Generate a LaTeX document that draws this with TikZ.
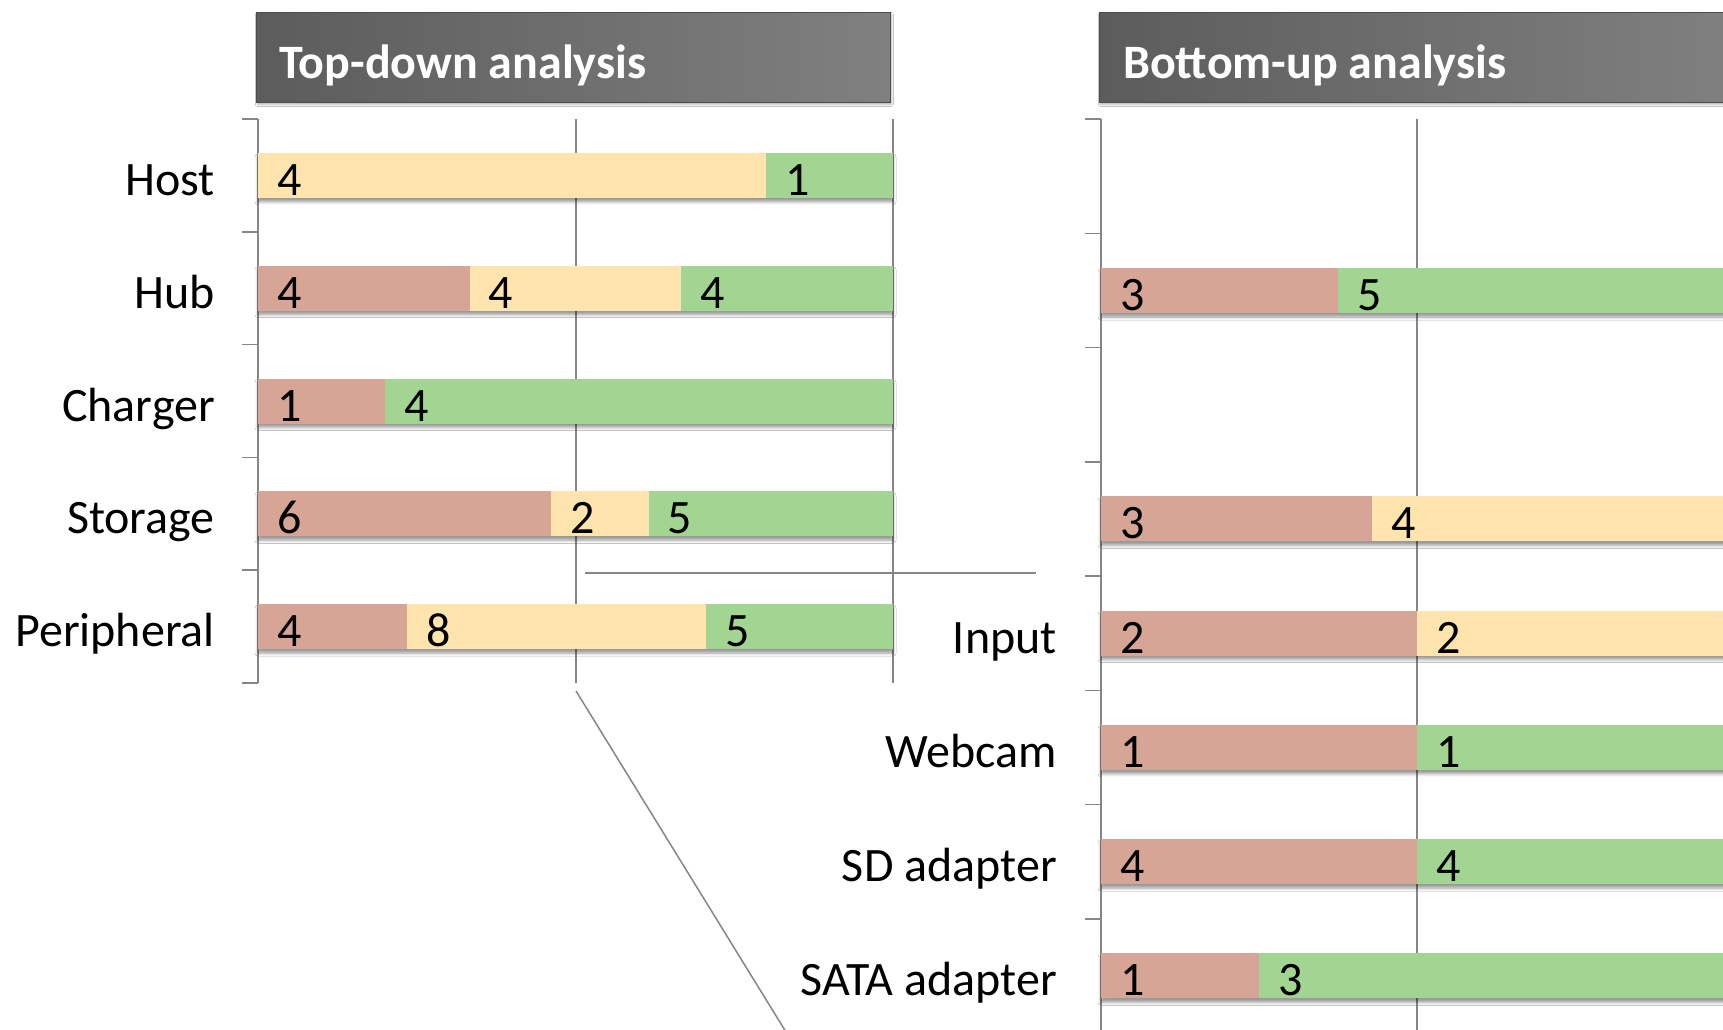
\documentclass[tikz,border=0pt]{standalone}
\usepackage{fontspec}
\setmainfont{Carlito}
\usetikzlibrary{shadows.blur}

\definecolor{segred}{RGB}{214,165,149}
\definecolor{segyel}{RGB}{255,229,173}
\definecolor{seggrn}{RGB}{162,213,146}
\definecolor{gridgray}{RGB}{134,134,134}
\definecolor{hdrdark}{RGB}{92,92,92}
\definecolor{hdrlight}{RGB}{128,128,128}

% stacked 100% bar: x0, full width, y centre, red, yellow, green, name prefix
\newcommand\stackbar[7]{%
  \pgfmathsetmacro\sbtot{#4+#5+#6}%
  \pgfmathsetmacro\sbxa{#1+#2*#4/\sbtot}%
  \pgfmathsetmacro\sbxb{\sbxa+#2*#5/\sbtot}%
  \pgfmathsetmacro\sbxc{#1+#2}%
  \path[barshadow] (#1,#3-22.5) rectangle (\sbxc,#3+22.5);
  \ifnum#4>0
    \fill[segred] (#1,#3-22.5) rectangle (\sbxa,#3+22.5);
    \node[num] (#7r) at (#1+19,#3+20) {#4};
  \fi
  \ifnum#5>0
    \fill[segyel] (\sbxa,#3-22.5) rectangle (\sbxb,#3+22.5);
    \node[num] (#7y) at (\sbxa+19,#3+20) {#5};
  \fi
  \ifnum#6>0
    \fill[seggrn] (\sbxb,#3-22.5) rectangle (\sbxc,#3+22.5);
    \node[num] (#7g) at (\sbxb+19,#3+20) {#6};
  \fi
}

\begin{document}
\begin{tikzpicture}[x=1pt,y=-1pt,
  bigfont/.style={font=\fontsize{48}{58}\selectfont},
  cat/.style={bigfont, anchor=base east, inner sep=0pt, text=black},
  num/.style={bigfont, anchor=base west, inner sep=0pt, text=black},
  hdr/.style={anchor=north west, inner sep=0pt, minimum width=634pt,
    minimum height=90pt, left color=hdrdark, right color=hdrlight,
    draw=black!70, line width=0.8pt,
    blur shadow={shadow xshift=1pt, shadow yshift=-2pt, shadow blur radius=2pt, shadow opacity=30}},
  hdrtext/.style={anchor=base west, inner sep=0pt, text=white,
    font=\bfseries\fontsize{48}{58}\selectfont},
  gridline/.style={draw=gridgray, line width=1.5pt},
  guide/.style={draw=gridgray, line width=1.5pt},
  barshadow/.style={fill=white,
    blur shadow={shadow xshift=0pt, shadow yshift=-4pt, shadow blur radius=3pt, shadow opacity=40}},
]
\useasboundingbox (0,0) rectangle (1723,1029);
\clip (0,0) rectangle (1723,1029);
\fill[white] (0,0) rectangle (1723,1029);

% ---------------- headers ----------------
\node[hdr] (hdrL) at (256,12) {};
\node[hdrtext] (hdrLt) at (279,78) {Top-down analysis};
\node[hdr] (hdrR) at (1099,12) {};
\node[hdrtext] (hdrRt) at (1123,78) {Bottom-up analysis};

% ---------------- left chart: axis and grid ----------------
\draw[gridline] (258,119) -- (258,683);
\foreach \k in {0,...,5}
  \draw[gridline] (242,119+112.8*\k) -- (258,119+112.8*\k);
\draw[gridline] (576,119) -- (576,683);
\draw[gridline] (893,119) -- (893,683);

% ---------------- right chart: axis and grid ----------------
\draw[gridline] (1101,119) -- (1101,1040);
\foreach \k in {0,...,8}
  \draw[gridline] (1085,119+114.25*\k) -- (1101,119+114.25*\k);
\draw[gridline] (1417,119) -- (1417,1040);

% ---------------- guide lines ----------------
\coordinate (hA) at (585,573);
\coordinate (hB) at (1036,573);
\draw[guide] (hA) -- (hB);
\coordinate (dA) at (576,691);
\coordinate (dB) at (786,1032);
\draw[guide] (dA) -- (dB);

% ---------------- left chart bars ----------------
\stackbar{258}{635}{175.4}{0}{4}{1}{host}
\stackbar{258}{635}{288.2}{4}{4}{4}{hub}
\stackbar{258}{635}{401}{1}{0}{4}{chg}
\stackbar{258}{635}{513.8}{6}{2}{5}{sto}
\stackbar{258}{635}{626.6}{4}{8}{5}{per}

\node[cat] (lHost) at (215,195.4) {Host};
\node[cat] (lHub) at (215,308.2) {Hub};
\node[cat] (lChg) at (215,421) {Charger};
\node[cat] (lSto) at (215,533.8) {Storage};
\node[cat] (lPer) at (215,646.6) {Peripheral};

% ---------------- right chart bars ----------------
\stackbar{1101}{632}{290.5}{3}{0}{5}{rb}
\stackbar{1101}{632}{518.9}{3}{4}{0}{rd}
\stackbar{1101}{632}{633.1}{2}{2}{0}{inp}
\stackbar{1101}{632}{747.4}{1}{0}{1}{cam}
\stackbar{1101}{632}{861.6}{4}{0}{4}{sd}
\stackbar{1101}{632}{975.9}{1}{0}{3}{sata}

\node[cat] (lInp) at (1057,653.1) {Input};
\node[cat] (lCam) at (1057,767.4) {Webcam};
\node[cat] (lSd) at (1057,881.6) {SD adapter};
\node[cat] (lSata) at (1057,995.9) {SATA adapter};
\end{tikzpicture}
\end{document}
